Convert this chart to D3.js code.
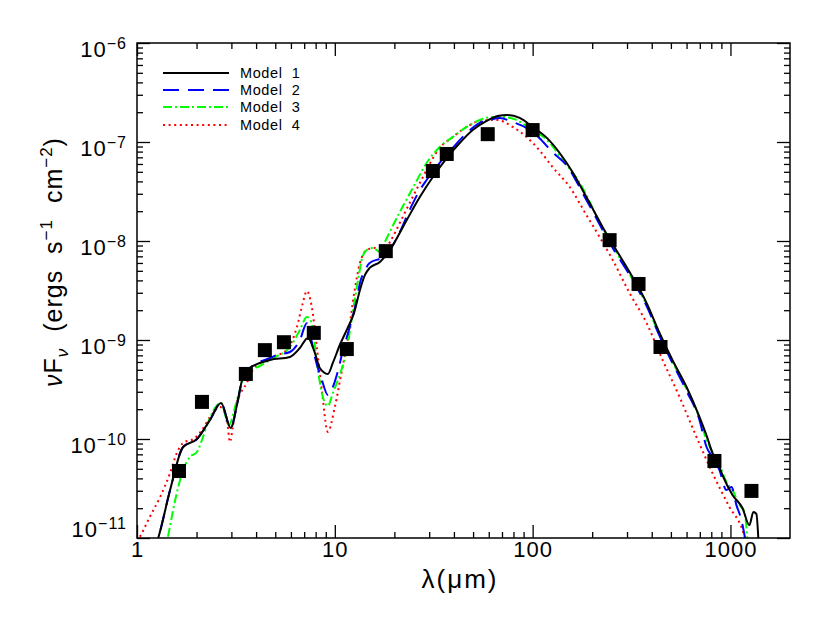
<!DOCTYPE html>
<html><head><meta charset="utf-8">
<script src="https://cdn.jsdelivr.net/npm/d3@7"></script>
<style>body{margin:0;background:#fff} svg{display:block}</style>
</head><body>
<svg id="c" width="830" height="623"></svg>
<script>
// ---------- data ----------
const xMajor = [1, 10, 100, 1000];
const xTickLabels = ["1", "10", "100", "1000"];
const yMajor = [1e-11, 1e-10, 1e-9, 1e-8, 1e-7, 1e-6];
const yTickExp = ["−11", "−10", "−9", "−8", "−7", "−6"];

const obsLambda = [1.63, 2.13, 3.55, 4.43, 5.53, 7.83, 11.5, 18.1, 31.3, 36.8, 59.3, 100, 245, 343, 443, 830, 1277];
const obsFlux   = [4.75e-11, 2.37e-10, 4.54e-10, 7.9e-10, 9.5e-10, 1.18e-9, 8.1e-10, 7.9e-9, 5.09e-8, 7.57e-8, 1.2e-7, 1.32e-7, 1.02e-8, 3.68e-9, 8.5e-10, 6.0e-11, 2.99e-11];

const model1Lambda = [1.2,1.28,1.47,1.71,2.01,2.34,2.66,2.98,3.20,3.43,3.72,4.70,5.93,6.66,7.31,7.93,8.40,9.22,9.77,10.6,11.6,12.5,13.4,14.2,15.0,16.9,18.5,19.4,23.1,26.9,31.3,36.8,42.8,49.8,58.6,66.6,74.8,86.0,100,118,137,159,187,226,259,309,377,438,509,600,697,765,811,859,911,1024,1150,1247,1306,1352,1385];
const model1Flux = [7e-12,1.0e-11,3.05e-11,8.3e-11,1.0e-10,1.56e-10,2.31e-10,1.29e-10,2.2e-10,4.23e-10,5.21e-10,6.28e-10,6.73e-10,8.3e-10,1.05e-9,7.4e-10,5.21e-10,4.54e-10,5.86e-10,8.9e-10,1.32e-9,1.87e-9,3.2e-9,4.54e-9,5.34e-9,6.14e-9,7.56e-9,8.7e-9,1.63e-8,2.78e-8,4.43e-8,6.89e-8,9.77e-8,1.32e-7,1.63e-7,1.83e-7,1.87e-7,1.75e-7,1.42e-7,1.10e-7,7.74e-8,4.98e-8,2.78e-8,1.38e-8,8.7e-9,4.86e-9,2.36e-9,1.18e-9,6.28e-10,3.35e-10,1.67e-10,1.02e-10,7.22e-11,5.86e-11,4.33e-11,2.72e-11,2.01e-11,1.35e-11,1.83e-11,1.75e-11,9.5e-12];

const model2Lambda = [1.2,1.28,1.47,1.71,2.01,2.34,2.66,2.98,3.20,3.43,3.72,4.70,5.10,5.93,6.66,7.22,7.48,7.93,8.60,9.22,9.77,10.4,11.0,11.9,12.9,13.4,14.2,15.0,17.5,19.4,21.3,23.9,26.9,29.1,33.9,39.4,46.4,54.0,60.7,68.1,79.3,93.3,108,126,148,187,254,309,377,438,509,600,697,757,811,880,954,1012,1072,1136,1191];
const model2Flux = [7e-12,1.0e-11,3.05e-11,8.3e-11,1.0e-10,1.56e-10,2.31e-10,1.29e-10,2.2e-10,4.23e-10,5.21e-10,6.58e-10,7.05e-10,7.56e-10,1.0e-9,1.48e-9,1.18e-9,6.73e-10,3.94e-10,2.78e-10,3.35e-10,4.98e-10,7.93e-10,1.35e-9,2.54e-9,3.77e-9,5.09e-9,6.0e-9,6.89e-9,8.7e-9,1.23e-8,2.06e-8,3.27e-8,4.13e-8,6.14e-8,8.7e-8,1.23e-7,1.56e-7,1.67e-7,1.75e-7,1.59e-7,1.38e-7,1.10e-7,7.9e-8,5.86e-8,2.60e-8,8.5e-9,4.54e-9,2.2e-9,1.10e-9,5.86e-10,3.05e-10,1.56e-10,8.3e-11,6.58e-11,4.86e-11,3.05e-11,3.27e-11,2.15e-11,1.52e-11,9.5e-12];

const model3Lambda = [1.38,1.43,1.56,1.71,1.85,2.01,2.13,2.28,2.66,2.91,3.15,3.43,3.72,4.08,4.86,5.93,6.66,7.22,7.65,8.11,8.70,9.22,9.77,10.8,11.5,12.3,13.1,13.8,14.5,15.6,16.9,17.9,21.3,24.8,29.1,33.9,39.4,46.4,54.0,62.8,70.6,83.0,96.6,118,142,173,226,259,309,377,438,509,600,697,757,811,880,954,1024,1111,1177,1219];
const model3Flux = [7e-12,1e-11,2.42e-11,4.86e-11,6.58e-11,7.39e-11,9.77e-11,1.45e-10,2.31e-10,1.38e-10,2.2e-10,3.94e-10,5.0e-10,5.34e-10,6.58e-10,8.5e-10,1.26e-9,1.71e-9,1.48e-9,5.86e-10,2.66e-10,2.15e-10,2.91e-10,4.98e-10,7.93e-10,1.87e-9,4.04e-9,6.89e-9,8.11e-9,8.5e-9,7.74e-9,9.77e-9,1.96e-8,3.43e-8,6.14e-8,8.9e-8,1.12e-7,1.42e-7,1.67e-7,1.79e-7,1.79e-7,1.67e-7,1.38e-7,1.05e-7,6.58e-8,3.85e-8,1.35e-8,8.3e-9,4.64e-9,2.26e-9,1.12e-9,6.0e-10,3.2e-10,1.63e-10,9.77e-11,7.39e-11,5.46e-11,3.68e-11,3.05e-11,2.15e-11,1.83e-11,9.5e-12];

const model4Lambda = [1.0,1.02,1.06,1.16,1.31,1.47,1.59,1.71,1.96,2.13,2.34,2.63,2.85,2.95,3.05,3.20,3.59,3.85,4.70,5.72,6.43,6.89,7.22,7.65,8.11,8.60,9.22,10.0,10.8,11.6,12.6,13.4,14.5,15.9,17.5,19.0,21.3,23.9,26.9,33.9,39.4,46.4,54.0,65.8,79.3,93.3,108,126,154,187,218,254,309,377,454,553,673,811,988,1150,1191];
const model4Flux = [8e-12,9.5e-12,1.12e-11,1.63e-11,2.6e-11,4.54e-11,7.22e-11,9.11e-11,1.02e-10,1.23e-10,1.67e-10,2.10e-10,1.56e-10,9.33e-11,1.32e-10,2.31e-10,3.68e-10,4.98e-10,6.58e-10,7.93e-10,1.35e-9,2.36e-9,3.12e-9,2.15e-9,8.5e-10,3.12e-10,1.18e-10,2.10e-10,4.64e-10,1.0e-9,3.2e-9,6.0e-9,8.11e-9,8.5e-9,7.56e-9,9.77e-9,1.52e-8,2.42e-8,3.85e-8,8.7e-8,1.12e-7,1.42e-7,1.63e-7,1.67e-7,1.42e-7,1.12e-7,8.3e-8,5.59e-8,3.51e-8,1.83e-8,1.10e-8,6.43e-9,2.98e-9,1.48e-9,6.28e-10,2.66e-10,1.05e-10,4.54e-11,2.06e-11,1.2e-11,9.5e-12];

const modelNames = ["Model  1", "Model  2", "Model  3", "Model  4"];
const modelColors = ["#000000", "#0000ff", "#00ff00", "#ff0000"];

// ---------- layout ----------
const L = 137, R = 790, T = 43, B = 538;
const FONT = "'Liberation Sans', Arial, sans-serif";
const svg = d3.select("#c");

const x = d3.scaleLog().domain([1, 2000]).range([L, R]);
const y = d3.scaleLog().domain([1e-11, 1e-6]).range([B, T]);

const xMinor = [];
[1, 10, 100, 1000].forEach(d => { for (let k = 2; k <= 9; k++) if (d * k < 2000) xMinor.push(d * k); });
const yMinor = [];
[1e-11, 1e-10, 1e-9, 1e-8, 1e-7].forEach(d => { for (let k = 2; k <= 9; k++) yMinor.push(d * k); });

const blank = () => "";
function tidy(g) {
  g.select(".domain").remove();
  g.selectAll("line").attr("stroke", "#000").attr("stroke-width", 1.3);
}

// minor ticks
svg.append("g").attr("transform", `translate(0,${B})`)
  .call(d3.axisBottom(x).tickValues(xMinor).tickSizeInner(-6).tickSizeOuter(0).tickFormat(blank)).call(tidy);
svg.append("g").attr("transform", `translate(0,${T})`)
  .call(d3.axisTop(x).tickValues(xMinor).tickSizeInner(-6).tickSizeOuter(0).tickFormat(blank)).call(tidy);
svg.append("g").attr("transform", `translate(${L},0)`)
  .call(d3.axisLeft(y).tickValues(yMinor).tickSizeInner(-6).tickSizeOuter(0).tickFormat(blank)).call(tidy);
svg.append("g").attr("transform", `translate(${R},0)`)
  .call(d3.axisRight(y).tickValues(yMinor).tickSizeInner(-6).tickSizeOuter(0).tickFormat(blank)).call(tidy);

// major ticks
const xAxisG = svg.append("g").attr("transform", `translate(0,${B})`)
  .call(d3.axisBottom(x).tickValues(xMajor).tickSizeInner(-13).tickSizeOuter(0).tickPadding(3)
    .tickFormat((d, i) => xTickLabels[i])).call(tidy);
xAxisG.selectAll("text").attr("font-family", FONT).attr("font-size", 22)
  .attr("letter-spacing", 1).attr("fill", "#000");
svg.append("g").attr("transform", `translate(0,${T})`)
  .call(d3.axisTop(x).tickValues(xMajor).tickSizeInner(-13).tickSizeOuter(0).tickFormat(blank)).call(tidy);
svg.append("g").attr("transform", `translate(${R},0)`)
  .call(d3.axisRight(y).tickValues(yMajor).tickSizeInner(-13).tickSizeOuter(0).tickFormat(blank)).call(tidy);
const yAxisG = svg.append("g").attr("transform", `translate(${L},0)`)
  .call(d3.axisLeft(y).tickValues(yMajor).tickSizeInner(-13).tickSizeOuter(0).tickPadding(10)
    .tickFormat(blank)).call(tidy);
yAxisG.selectAll("text").each(function (d, i) {
  const t = d3.select(this).attr("font-family", FONT).attr("font-size", 22).attr("fill", "#000")
    .attr("letter-spacing", 1).attr("dy", i === 0 ? "-0.05em" : "0.6em");
  t.append("tspan").text("10");
  t.append("tspan").attr("font-size", 16).attr("dy", -8).text(yTickExp[i]);
});

// clip
svg.append("clipPath").attr("id", "plotclip").append("rect")
  .attr("x", L).attr("y", T).attr("width", R - L).attr("height", B - T);

const line = d3.line().x(d => x(d[0])).y(d => y(d[1])).curve(d3.curveMonotoneX);
const models = [
  { lam: model1Lambda, flux: model1Flux, dash: null },
  { lam: model2Lambda, flux: model2Flux, dash: "16,9" },
  { lam: model3Lambda, flux: model3Flux, dash: "9,3,2,3" },
  { lam: model4Lambda, flux: model4Flux, dash: "2,3.6" }
];
const curves = svg.append("g").attr("clip-path", "url(#plotclip)");
[3, 2, 1, 0].forEach(i => {
  const m = models[i];
  curves.append("path")
    .datum(m.lam.map((l, j) => [l, m.flux[j]]))
    .attr("d", line)
    .attr("fill", "none")
    .attr("stroke", modelColors[i])
    .attr("stroke-width", 2)
    .attr("stroke-dasharray", m.dash);
});

// observed points
const S = 14;
svg.append("g").selectAll("rect.obs")
  .data(obsLambda.map((l, i) => [l, obsFlux[i]]))
  .join("rect").attr("class", "obs")
  .attr("x", d => x(d[0]) - S / 2).attr("y", d => y(d[1]) - S / 2)
  .attr("width", S).attr("height", S).attr("fill", "#000");

// frame
svg.append("rect").attr("x", L).attr("y", T).attr("width", R - L).attr("height", B - T)
  .attr("fill", "none").attr("stroke", "#000").attr("stroke-width", 1.5);

// legend
const leg = svg.append("g");
const legY = [73, 90, 107, 125];
modelNames.forEach((name, i) => {
  leg.append("line").attr("x1", 163).attr("x2", 229).attr("y1", legY[i]).attr("y2", legY[i])
    .attr("stroke", modelColors[i]).attr("stroke-width", 2).attr("stroke-dasharray", models[i].dash);
  leg.append("text").attr("x", 240).attr("y", legY[i] + 5)
    .attr("font-family", FONT).attr("font-size", 14.5).attr("letter-spacing", 0.6).attr("fill", "#000")
    .style("white-space", "pre").text(name);
});

// axis titles
svg.append("text").attr("x", 460).attr("y", 588).attr("text-anchor", "middle")
  .attr("font-family", FONT).attr("font-size", 26).attr("letter-spacing", 2).attr("fill", "#000")
  .text("λ(μm)");

const yt = svg.append("text").attr("transform", "translate(62,262) rotate(-90)")
  .attr("text-anchor", "middle").attr("font-family", FONT).attr("font-size", 25)
  .attr("letter-spacing", 1).attr("fill", "#000").style("white-space", "pre");
yt.append("tspan").attr("font-style", "italic").text("ν");
yt.append("tspan").text("F");
yt.append("tspan").attr("font-style", "italic").attr("font-size", 17).attr("dy", 6).text("ν");
yt.append("tspan").attr("dy", -6).text("  (ergs  s");
yt.append("tspan").attr("font-size", 17).attr("dy", -10).text("−1");
yt.append("tspan").attr("dy", 10).text("  cm");
yt.append("tspan").attr("font-size", 17).attr("dy", -10).text("−2");
yt.append("tspan").attr("dy", 10).text(")");
</script>
</body></html>
